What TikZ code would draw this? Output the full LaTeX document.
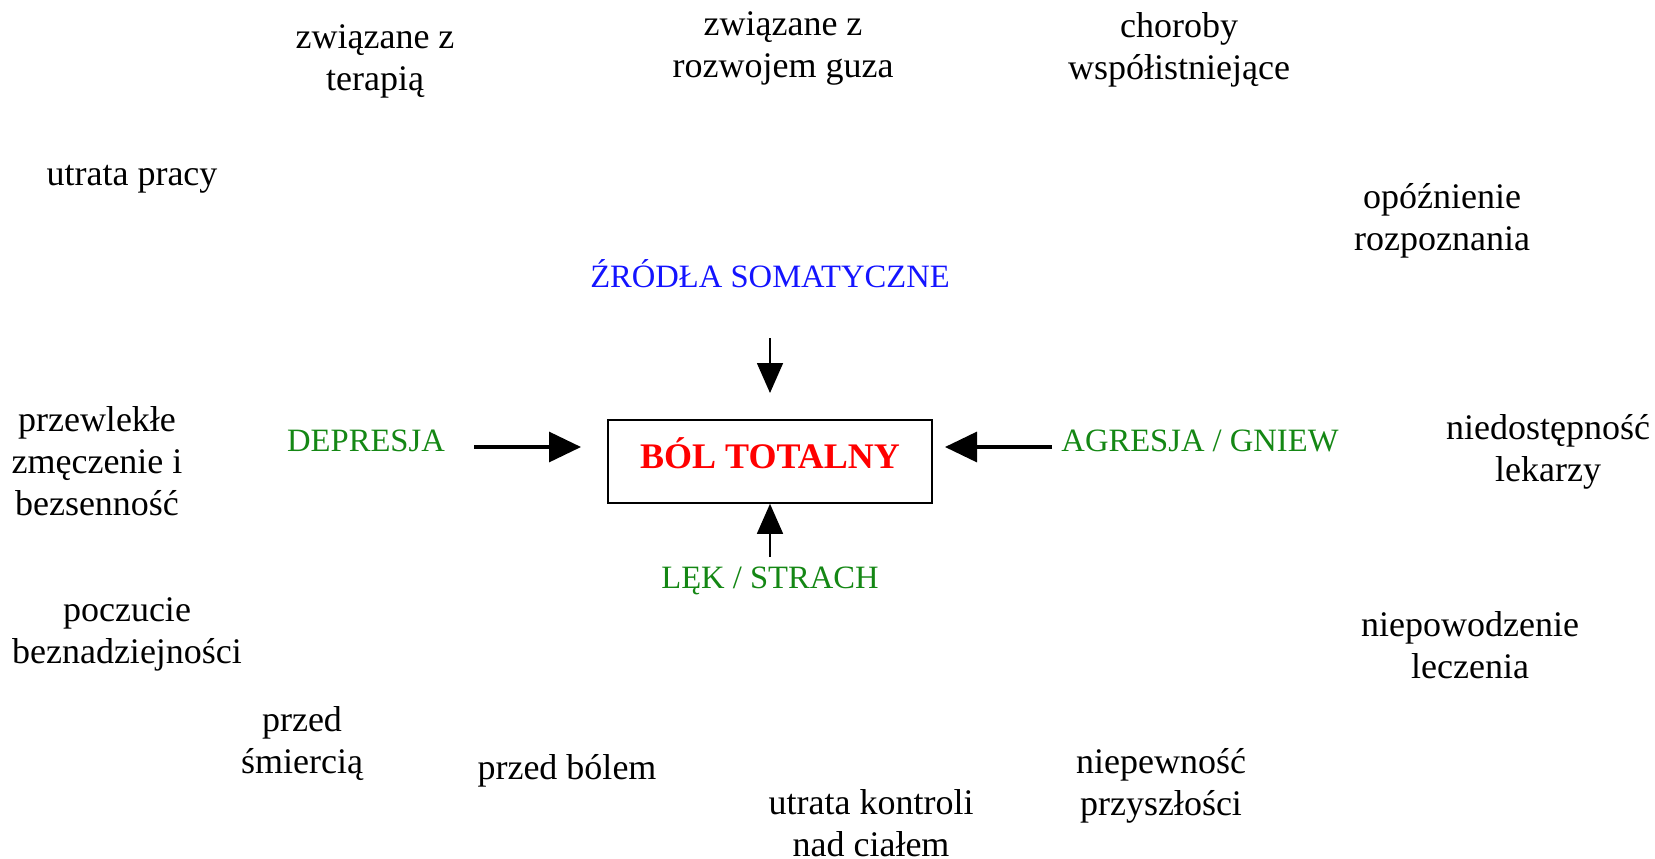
\documentclass[tikz,border=0pt]{standalone}
\usepackage{fontspec}
\setmainfont{Liberation Serif}
\usetikzlibrary{arrows.meta}
\definecolor{somblue}{RGB}{20,20,255}
\definecolor{emogreen}{RGB}{20,135,20}
\definecolor{painred}{RGB}{255,0,0}
\begin{document}
\begin{tikzpicture}[x=0.5pt,y=-0.5pt,
  txt/.style={font=\fontsize{18}{21}\selectfont, align=center, inner sep=0pt},
  lbl/.style={font=\fontsize{16.3}{19}\selectfont, inner sep=0pt},
  harr/.style={line width=1.6pt, -{Triangle[length=16pt,width=15pt]}},
  varr/.style={line width=0.8pt, -{Triangle[length=15pt,width=13pt]}}]
\useasboundingbox (0,0) rectangle (1655,858);

% central box
\node[draw, line width=0.8pt, minimum width=162pt, minimum height=41.5pt, inner sep=0pt] (box) at (770,461.5) {};
\node[font=\fontsize{18}{21}\selectfont\bfseries, text=painred, inner sep=0pt] (boxlbl) at (770,453) {BÓL TOTALNY};

% four sources
\node[lbl, text=somblue]  (som) at (770,274) {ŹRÓDŁA SOMATYCZNE};
\node[lbl, text=emogreen] (dep) at (366,441) {DEPRESJA};
\node[lbl, text=emogreen] (agr) at (1200,441) {AGRESJA / GNIEW};
\node[lbl, text=emogreen] (lek) at (770,581) {LĘK / STRACH};

% arrows into the box
\coordinate (somA) at (770,338);
\coordinate (somB) at (770,393);
\coordinate (depA) at (474,447);
\coordinate (depB) at (581,447);
\coordinate (agrA) at (1052,447);
\coordinate (agrB) at (945,447);
\coordinate (lekA) at (770,557);
\draw[varr] (somA) -- (somB);
\draw[harr] (depA) -- (depB);
\draw[harr] (agrA) -- (agrB);
\draw[varr] (lekA) -- (box.south);

% surrounding factors
\node[txt] (t1)  at (375,61)   {związane z\\terapią};
\node[txt] (t2)  at (783,48)   {związane z\\rozwojem guza};
\node[txt] (t3)  at (1179,50)  {choroby\\współistniejące};
\node[txt] (t4)  at (132,179)  {utrata pracy};
\node[txt] (t5)  at (1442,221) {opóźnienie\\rozpoznania};
\node[txt] (t6)  at (97,461)   {przewlekłe\\zmęczenie i\\bezsenność};
\node[txt] (t7)  at (1548,452) {niedostępność\\lekarzy};
\node[txt] (t8)  at (127,634)  {poczucie\\beznadziejności};
\node[txt] (t9)  at (1470,645) {niepowodzenie\\leczenia};
\node[txt] (t10) at (302,744)  {przed\\śmiercią};
\node[txt] (t11) at (567,771)  {przed bólem};
\node[txt] (t12) at (871,823)  {utrata kontroli\\nad ciałem};
\node[txt] (t13) at (1161,786) {niepewność\\przyszłości};
\end{tikzpicture}
\end{document}
